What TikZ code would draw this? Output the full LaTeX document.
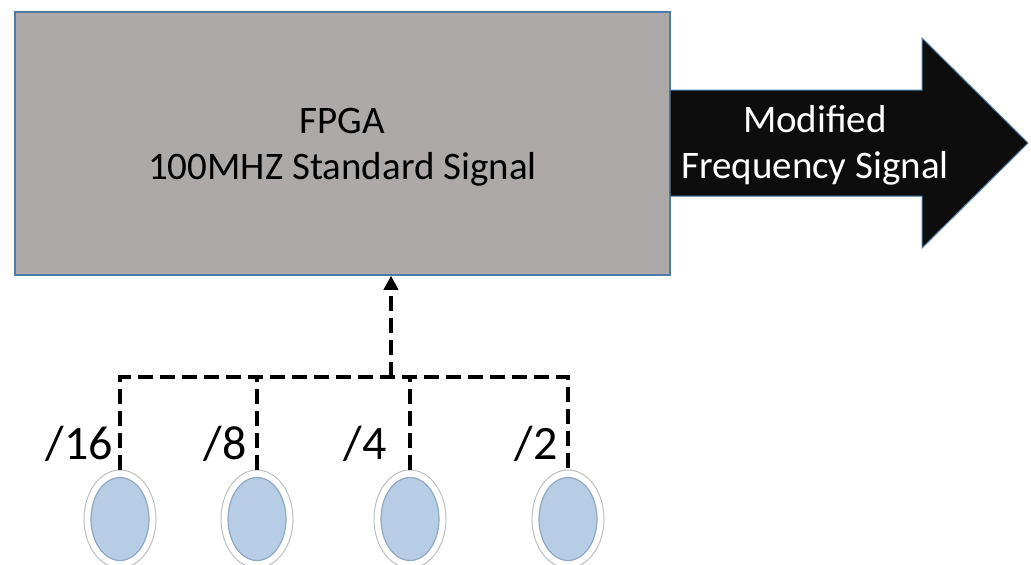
\documentclass[tikz,border=0pt]{standalone}
\usepackage{fontspec}
\setmainfont{Carlito}
\usetikzlibrary{shapes.geometric,arrows.meta}
\definecolor{boxgray}{HTML}{ADA9A8}
\definecolor{edgeblue}{HTML}{4F79A6}
\definecolor{arrowblack}{HTML}{0D0D0D}
\definecolor{btnblue}{HTML}{B7CDE5}
\definecolor{btnedge}{HTML}{8FA8C4}
\definecolor{ringedge}{HTML}{BEBEBE}
\tikzset{
  x=1pt, y=-1pt,
  bigtext/.style={font=\fontsize{39}{46}\selectfont, align=center},
  divlabel/.style={font=\fontsize{48}{52}\selectfont, anchor=base east, inner sep=0pt},
  ring/.style={ellipse, fill=white, draw=ringedge, line width=1pt,
    minimum width=72pt, minimum height=98pt, inner sep=0pt},
  button/.style={ellipse, fill=btnblue, draw=btnedge, line width=1.2pt,
    minimum width=58pt, minimum height=83pt, inner sep=0pt},
  bus/.style={line width=4.6pt, dash pattern=on 15pt off 7pt, black},
}
\begin{document}
\begin{tikzpicture}
\useasboundingbox (0,0) rectangle (1031,565);

% main FPGA block
\node[draw=edgeblue, fill=boxgray, line width=1.5pt, minimum width=655pt,
  minimum height=263pt, inner sep=0pt] (fpga) at (342.5,143.5) {};
\node[bigtext] (fpgatext) at (342.5,147) {FPGA\\100MHZ Standard Signal};

% output block arrow
\draw[fill=arrowblack, draw=edgeblue, line width=1pt]
  (670,90) -- (922,90) -- (922,38) -- (1028,143) -- (922,248) -- (922,196) -- (670,196) -- cycle;
\node[bigtext, text=white] (outtext) at (815,145) {Modified\\Frequency Signal};

% divider selectors
\foreach \n/\x in {a/120, b/257, c/410, d/568}{
  \node[ring] (r\n) at (\x,519) {};
  \node[button] (k\n) at (\x,519) {};
}
\node[divlabel] (la) at (113,459) {/16};
\node[divlabel] (lb) at (247,459) {/8};
\node[divlabel] (lc) at (387,459) {/4};
\node[divlabel] (ld) at (558,459) {/2};

% dashed bus into the FPGA
\coordinate (hub) at (391,377);
\draw[bus] (ra.north) -- (ra.north |- hub) -- (rd.north |- hub) -- (rd.north);
\draw[bus] (rb.north) -- (rb.north |- hub);
\draw[bus] (rc.north) -- (rc.north |- hub);
\draw[bus, -{Triangle[length=14pt,width=14pt]}] (hub) -- (fpga.south -| hub);
\end{tikzpicture}
\end{document}
